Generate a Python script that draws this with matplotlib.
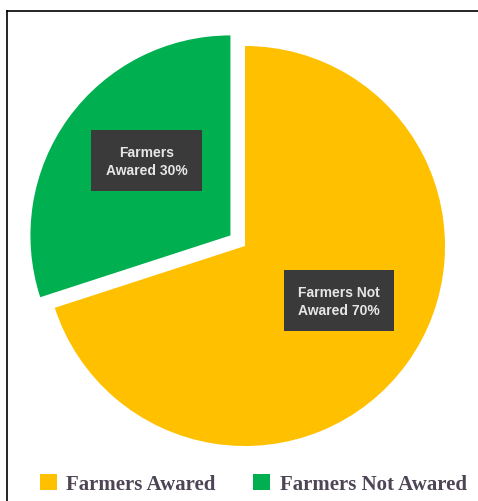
"""Pie chart of farmer awareness share."""

import numpy as np
import matplotlib.pyplot as plt
from matplotlib.lines import Line2D
from matplotlib.patches import Patch

# slice data (drawn clockwise from 12 o'clock)
shares = [70, 30]
slice_labels = ["Farmers Not\nAwared 70%", "Farmers\nAwared 30%"]
slice_colors = ["#FFC000", "#00B050"]
explode = [0, 0.09]

# legend entries
legend_labels = ["Farmers Awared", "Farmers Not Awared"]
legend_colors = ["#FFC000", "#00B050"]

W, H = 478, 502
fig = plt.figure(figsize=(W / 100, H / 100), dpi=100)
ax = fig.add_axes([0, 0, 1, 1])

wedges, _ = ax.pie(
    shares,
    colors=slice_colors,
    explode=explode,
    startangle=90,
    counterclock=False,
    radius=1.0,
)

# dark callout boxes inside each slice, nudged slightly up/right
for w, label in zip(wedges, slice_labels):
    mid = np.deg2rad((w.theta1 + w.theta2) / 2)
    x = w.center[0] + 0.55 * np.cos(mid) + 0.025
    y = w.center[1] + 0.55 * np.sin(mid) + 0.05
    ax.text(x, y, label, ha="center", va="center", color="#e6e6e6",
            fontsize=10, family="Liberation Sans", weight="bold", linespacing=1.35,
            bbox=dict(boxstyle="square,pad=1.05", facecolor="#3a3a3a", edgecolor="none"))

# pie centre sits at (245, 247) px with radius 200 px
cx, cy, r = 245, 247, 200
ax.set_xlim(-cx / r, (W - cx) / r)
ax.set_ylim(-(H - cy) / r, cy / r)
ax.set_axis_off()

# frame lines along top and left
fig.add_artist(Line2D([7 / W, 1], [1 - 12 / H, 1 - 12 / H], color="black", lw=1.2,
                      transform=fig.transFigure))
fig.add_artist(Line2D([7 / W, 7 / W], [0, 1 - 12 / H], color="black", lw=1.2,
                      transform=fig.transFigure))

handles = [Patch(facecolor=c, edgecolor="none") for c in legend_colors]
fig.legend(
    handles, legend_labels,
    loc="center", bbox_to_anchor=(0.53, 1 - 485 / H),
    ncol=2, frameon=False,
    handlelength=0.82, handleheight=0.82, handletextpad=0.45, columnspacing=1.8,
    prop=dict(family="Liberation Serif", weight="bold", size=15),
    labelcolor="#4d4455",
)

fig.savefig("out.png", dpi=100)
